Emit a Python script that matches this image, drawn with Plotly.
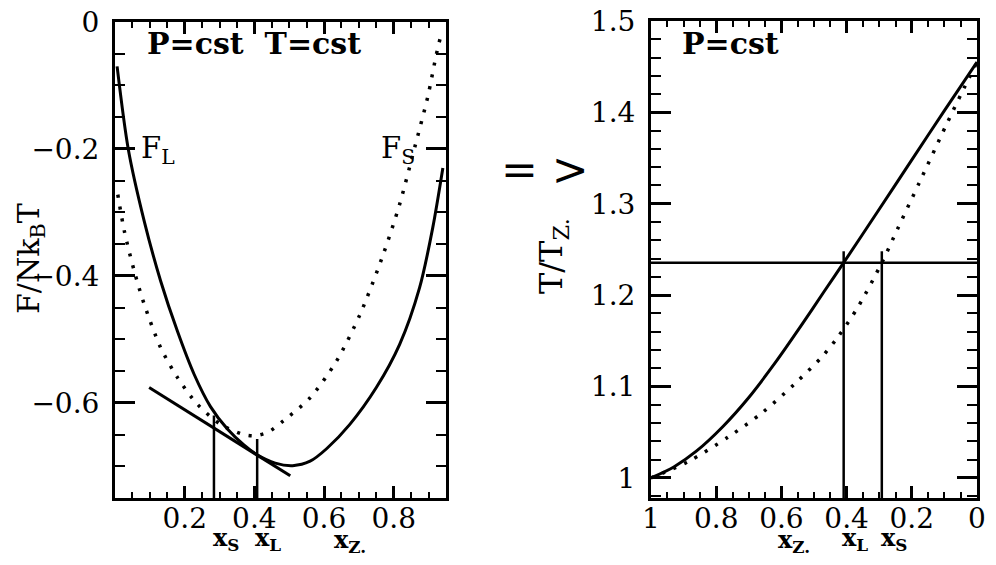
import plotly.graph_objects as go

# ---------------- data ----------------
# Left panel: free energies F/NkBT vs composition x_Z.
fl_x = [0.006, 0.038, 0.084, 0.131, 0.179, 0.227, 0.274, 0.322, 0.369, 0.408,
        0.460, 0.510, 0.560, 0.608, 0.674, 0.750, 0.817, 0.874, 0.912, 0.941]
fl_y = [-0.070, -0.200, -0.314, -0.408, -0.487, -0.555, -0.606, -0.641, -0.666, -0.682,
        -0.695, -0.699, -0.692, -0.672, -0.634, -0.576, -0.508, -0.419, -0.324, -0.230]

fs_x = [0.008, 0.027, 0.055, 0.084, 0.131, 0.179, 0.236, 0.303, 0.369, 0.400,
        0.440, 0.484, 0.560, 0.636, 0.703, 0.770, 0.817, 0.860, 0.898, 0.922, 0.938]
fs_y = [-0.272, -0.330, -0.392, -0.445, -0.513, -0.560, -0.602, -0.634, -0.650, -0.652,
        -0.646, -0.628, -0.592, -0.534, -0.461, -0.366, -0.287, -0.198, -0.117, -0.052, -0.015]

tangent_x = [0.098, 0.503]
tangent_y = [-0.576, -0.715]

left_xs, left_xs_top = 0.284, -0.620
left_xl, left_xl_top = 0.408, -0.657
left_ymin, left_ymax = -0.75, 0.0

left_xticks = [0.2, 0.4, 0.6, 0.8]
left_xtext = ["0.2", "0.4", "0.6", "0.8"]
left_yticks = [0, -0.2, -0.4, -0.6]
left_ytext = ["0", "\u22120.2", "\u22120.4", "\u22120.6"]

# Right panel: T/T_Z. vs composition (reversed axis)
tl_x = [1.000, 0.930, 0.860, 0.780, 0.700, 0.620, 0.540, 0.470, 0.409, 0.300, 0.200, 0.100, 0.000]
tl_y = [1.000, 1.012, 1.0295, 1.056, 1.088, 1.1255, 1.1663, 1.2034, 1.2355, 1.294, 1.348, 1.402, 1.455]

ts_x = [1.000, 0.885, 0.762, 0.660, 0.559, 0.477, 0.427, 0.365, 0.292, 0.243,
        0.177, 0.096, 0.046, 0.000]
ts_y = [1.000, 1.018, 1.045, 1.071, 1.103, 1.132, 1.154, 1.187, 1.2355, 1.273,
        1.323, 1.385, 1.422, 1.455]

t_eq = 1.2355
right_xl, right_xs, right_vtop = 0.409, 0.292, 1.248
right_ymin, right_ymax = 0.978, 1.5

right_xticks = [1, 0.8, 0.6, 0.4, 0.2, 0]
right_xtext = ["1", "0.8", "0.6", "0.4", "0.2", "0"]
right_yticks = [1, 1.1, 1.2, 1.3, 1.4, 1.5]
right_ytext = ["1", "1.1", "1.2", "1.3", "1.4", "1.5"]

# ---------------- figure ----------------
# the page body adds an 8 px offset; the figure fills the rest of the window
OX, OY = 8, 8
W, H = 996 - OX, 565 - OY
FONT = "DejaVu Serif"
lw = 3

def px(x):
    return (x - OX) / W

def py(y):
    return 1 - (y - OY) / H

fig = go.Figure()

def line(x, y, xa, ya, width=lw, dash="solid", shape="spline"):
    fig.add_trace(go.Scatter(x=x, y=y, xaxis=xa, yaxis=ya, mode="lines",
                             line=dict(color="black", width=width, dash=dash, shape=shape, smoothing=0.8),
                             hoverinfo="skip", showlegend=False, cliponaxis=True))

DOT = "3px,9px"
line(fl_x, fl_y, "x", "y")
line(fs_x, fs_y, "x", "y", width=3.5, dash=DOT)
line(tangent_x, tangent_y, "x", "y", shape="linear")
line([left_xs, left_xs], [left_ymin, left_xs_top], "x", "y", width=2.5, shape="linear")
line([left_xl, left_xl], [left_ymin, left_xl_top], "x", "y", width=2.5, shape="linear")

line(tl_x, tl_y, "x2", "y2")
line(ts_x, ts_y, "x2", "y2", width=3.5, dash=DOT)
line([right_xticks[0], right_xticks[-1]], [t_eq, t_eq], "x2", "y2", width=2.5, shape="linear")
line([right_xl, right_xl], [right_ymin, right_vtop], "x2", "y2", width=2.5, shape="linear")
line([right_xs, right_xs], [right_ymin, right_vtop], "x2", "y2", width=2.5, shape="linear")

tickfont = dict(family=FONT, size=28, color="black")

def axis_cfg(domain, rng, tv, tt, ticklen, minorlen, minor_dtick, anchor, standoff):
    return dict(domain=domain, range=rng, anchor=anchor,
                tickmode="array", tickvals=tv, ticktext=tt,
                ticks="inside", ticklen=ticklen, tickwidth=2.5, tickcolor="black",
                showline=True, linewidth=3, linecolor="black", mirror="allticks",
                showgrid=False, zeroline=False, tickfont=tickfont, automargin=False,
                ticklabelstandoff=standoff, ticklabeloverflow="allow",
                minor=dict(ticks="inside", ticklen=minorlen, tickwidth=2, tickcolor="black",
                           tickmode="linear", tick0=0, dtick=minor_dtick),
                fixedrange=True)

fig.update_layout(
    template="none",
    width=W, height=H,
    margin=dict(l=0, r=0, t=0, b=0, autoexpand=False),
    paper_bgcolor="white", plot_bgcolor="white",
    xaxis=axis_cfg([px(115), px(446)], [0.0, 0.95], left_xticks, left_xtext, 12, 6, 0.05, "y", -7),
    yaxis=axis_cfg([py(498), py(22)], [left_ymin, left_ymax], left_yticks, left_ytext, 20, 10, 0.05, "x", 7),
    xaxis2=axis_cfg([px(651), px(977)], [1, 0], right_xticks, right_xtext, 12, 6, 0.05, "y2", -7),
    yaxis2=axis_cfg([py(498), py(21)], [right_ymin, right_ymax], right_yticks, right_ytext, 20, 10, 0.02, "x2", 7),
    showlegend=False,
)

def ann(text, x, y, size=28, bold=False, angle=0, xanchor="center", yanchor="middle"):
    t = f"<b>{text}</b>" if bold else text
    fig.add_annotation(text=t, x=px(x), y=py(y), xref="paper", yref="paper",
                       showarrow=False, textangle=angle, xanchor=xanchor, yanchor=yanchor,
                       font=dict(family=FONT, size=size, color="black"))

ann("P=cst  T=cst", 145, 43, size=30, bold=True, xanchor="left")
ann("P=cst", 680, 43, size=30, bold=True, xanchor="left")
ann("F<sub>L</sub>", 158, 150, size=29)
ann("F<sub>S</sub>", 398, 150, size=29)
ann("F/Nk<sub>B</sub>T", 30, 259, size=30, angle=-90)
ann("T/T<sub>Z.</sub>", 553, 256, size=32, angle=-90)
ann("= >", 545, 170, size=44)

ann("x<sub>S</sub>", 226, 539, size=24, bold=True)
ann("x<sub>L</sub>", 268, 539, size=24, bold=True)
ann("x<sub>Z.</sub>", 350, 541, size=24, bold=True)
ann("x<sub>Z.</sub>", 794, 541, size=24, bold=True)
ann("x<sub>L</sub>", 855, 539, size=24, bold=True)
ann("x<sub>S</sub>", 894, 539, size=24, bold=True)

fig.write_html("out.html")
